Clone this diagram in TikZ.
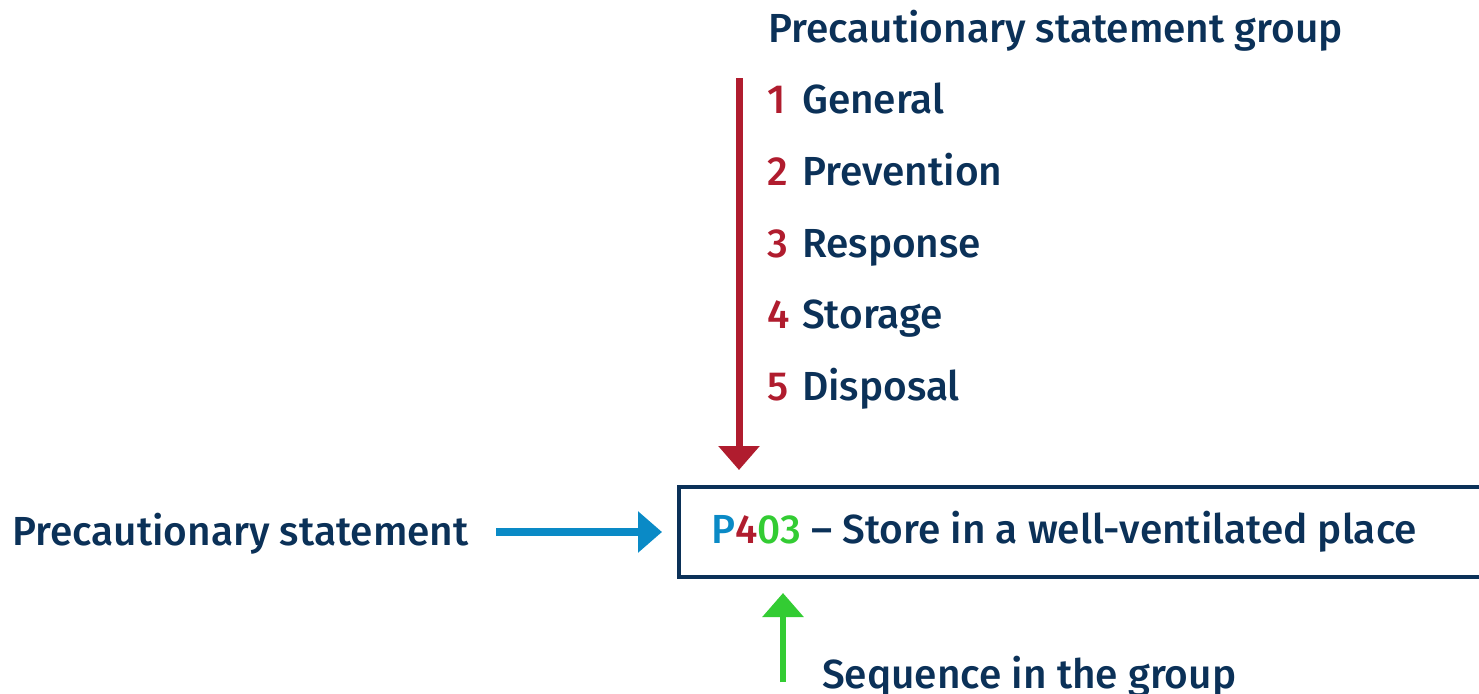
\documentclass[tikz,border=0pt]{standalone}
\usepackage{fontspec}
\setmainfont{Fira Sans}[UprightFont={* Medium}]
\usetikzlibrary{arrows.meta}
\definecolor{navy}{HTML}{0B3158}
\definecolor{grpred}{HTML}{B01C2E}
\definecolor{stblue}{HTML}{0A8AC6}
\definecolor{seqgreen}{HTML}{33CC33}
\newcommand{\grpnum}[1]{\makebox[35pt][l]{\textcolor{grpred}{#1}}}
\tikzset{
  lbl/.style={anchor=base west, inner sep=0pt, text=navy, font=\fontsize{40.6}{49}\selectfont},
  fat/.style={-{Triangle[length=24pt,width=40pt]}},
}
\begin{document}
\begin{tikzpicture}[x=1pt,y=-1pt]
\clip (0,0) rectangle (1479,693);
\fill[white] (0,0) rectangle (1479,693);

% heading and the five groups
\node[lbl] (grp) at (768,42) {Precautionary statement group};
\node[lbl] (g1) at (767,113) {\grpnum{1}General};
\node[lbl] (g2) at (767,185) {\grpnum{2}Prevention};
\node[lbl] (g3) at (767,257) {\grpnum{3}Response};
\node[lbl] (g4) at (767,328) {\grpnum{4}Storage};
\node[lbl] (g5) at (767,400) {\grpnum{5}Disposal};

% statement box, running off to the right
\draw[navy, line width=4pt] (1520,487) -- (679,487) -- (679,576.5) -- (1520,576.5);
\node[lbl] (code) at (711,543) {\textcolor{stblue}{P}\textcolor{grpred}{4}\textcolor{seqgreen}{03} – Store in a well-ventilated place};

\node[lbl] (stmt) at (12,545) {Precautionary statement};
\node[lbl] (seq) at (822,688) {Sequence in the group};

% connectors
\coordinate (rtop) at (739,78);
\coordinate (rtip) at (739,470);
\draw[fat, grpred, line width=7pt] (rtop) -- (rtip);
\coordinate (bstart) at (496,532);
\coordinate (btip) at (662,532);
\draw[fat, stblue, line width=8pt] (bstart) -- (btip);
\coordinate (gstart) at (783,682);
\coordinate (gtip) at (783,593);
\draw[fat, seqgreen, line width=6pt] (gstart) -- (gtip);
\end{tikzpicture}
\end{document}
